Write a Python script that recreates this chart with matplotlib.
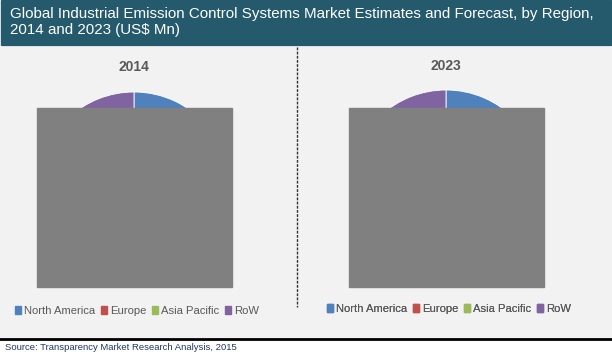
import matplotlib
matplotlib.use("Agg")
import matplotlib.pyplot as plt
from matplotlib.patches import Rectangle

# regional shares (pie mostly hidden in the source image, values estimated)
regions = ["North America", "Europe", "Asia Pacific", "RoW"]
colors = ["#4f81bd", "#c0504d", "#9bbb59", "#8064a2"]
years = ["2014", "2023"]
share_2014 = [28, 26, 34, 12]
share_2023 = [26, 24, 38, 12]

title = ("Global Industrial Emission Control Systems Market Estimates and Forecast, by Region,\n"
         "2014 and 2023 (US$ Mn)")
source = "Source: Transparency Market Research Analysis, 2015"

W, H = 612, 357
plt.rcParams["font.family"] = ["Liberation Sans", "DejaVu Sans"]

fig = plt.figure(figsize=(W / 100, H / 100), dpi=100)
ax = fig.add_axes([0, 0, 1, 1])


def y(v):
    # image rows -> axis coords (y up)
    return H - v


# header banner and panel
ax.add_patch(Rectangle((1, y(45)), 610, 45, color="#245a6b", zorder=1))
ax.add_patch(Rectangle((0, y(338)), W, 291, color="#f2f2f2", zorder=1))
ax.text(10, y(22), title, color="white", fontsize=10.9, va="center", ha="left",
        linespacing=1.15, zorder=5)

# pies
for cx, vals, yr, ycen, ytitle, lx, ly in [
    (134, share_2014, years[0], 188, 67, 137, 311),
    (446, share_2023, years[1], 186, 66, 449, 309),
]:
    wedges, _ = ax.pie(vals, colors=colors, startangle=90, counterclock=False,
                       center=(cx, y(ycen)), radius=96,
                       wedgeprops=dict(edgecolor="white", linewidth=0.6))
    for w in wedges:
        w.set_zorder(2)
    ax.text(cx, y(ytitle), yr, fontsize=10, fontweight="bold", color="#595959",
            ha="center", va="center", zorder=5)
    handles = [Rectangle((0, 0), 1, 1, color=c) for c in colors]
    leg = ax.legend(handles, regions, ncol=4, loc="center",
                    bbox_to_anchor=(lx / W, (H - ly) / H), bbox_transform=fig.transFigure,
                    frameon=False, handlelength=0.6, handleheight=0.6,
                    handletextpad=0.26, columnspacing=0.45, fontsize=8.1,
                    labelcolor="#595959", borderpad=0, borderaxespad=0)
    leg.set_zorder(5)
    ax.add_artist(leg)

# grey blocks covering the pies
ax.add_patch(Rectangle((37, y(287)), 195, 179, color="#808080", zorder=3))
ax.add_patch(Rectangle((349, y(287)), 195, 179, color="#808080", zorder=3))

# divider, bottom rule, source
ax.plot([297, 297], [y(47), y(307)], color="#333333", lw=1, ls=(0, (2, 1)), zorder=4)
ax.plot([0, W], [y(338.5), y(338.5)], color="black", lw=2, zorder=4)
ax.text(5, y(347), source, color="#1f3864", fontsize=6.8, ha="left", va="center", zorder=5)

ax.set_xlim(0, W)
ax.set_ylim(0, H)
ax.set_aspect("auto")
ax.axis("off")
fig.savefig("out.png", dpi=100, facecolor="white")
